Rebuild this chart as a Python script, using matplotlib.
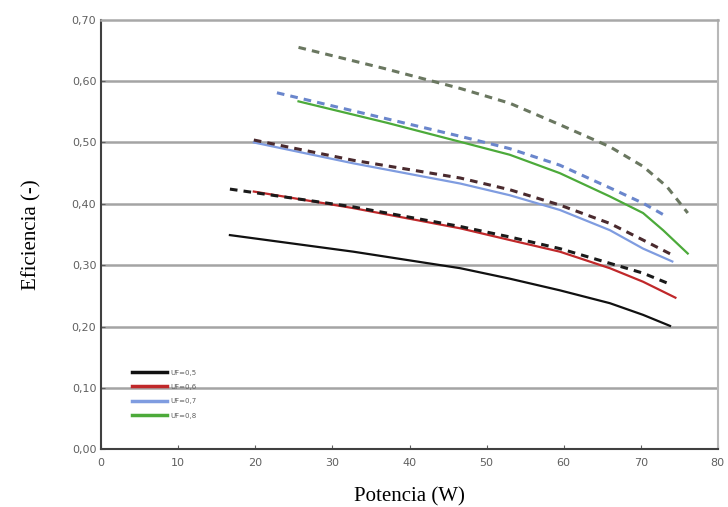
import matplotlib.pyplot as plt
import numpy as np

# U=0,5
w05 = [16.7, 32.7, 46.6, 53.0, 59.5, 66.0, 70.3, 73.8]
e05 = [0.349, 0.322, 0.295, 0.278, 0.259, 0.238, 0.219, 0.201]
w05d = [16.7, 32.7, 46.6, 53.0, 59.5, 66.0, 70.3, 73.8]
e05d = [0.424, 0.395, 0.363, 0.346, 0.327, 0.303, 0.287, 0.269]
# U=0,6
w06 = [19.8, 32.7, 46.6, 53.0, 59.5, 66.0, 70.3, 74.5]
e06 = [0.420, 0.393, 0.360, 0.341, 0.322, 0.295, 0.273, 0.247]
w06d = [19.8, 32.7, 46.6, 53.0, 59.5, 66.0, 70.3, 74.2]
e06d = [0.504, 0.471, 0.442, 0.423, 0.398, 0.368, 0.341, 0.316]
# U=0,7
w07 = [19.8, 32.7, 46.6, 53.0, 59.5, 66.0, 70.3, 74.1]
e07 = [0.500, 0.466, 0.433, 0.414, 0.390, 0.357, 0.327, 0.306]
w07d = [22.8, 34.9, 46.6, 53.0, 59.5, 66.0, 70.3, 73.4]
e07d = [0.581, 0.545, 0.510, 0.490, 0.463, 0.426, 0.401, 0.379]
# U=0,8
w08 = [25.6, 37.1, 46.6, 53.0, 59.5, 66.0, 70.3, 72.9, 76.1]
e08 = [0.567, 0.532, 0.501, 0.480, 0.450, 0.412, 0.385, 0.357, 0.319]
w08d = [25.6, 36.6, 46.6, 53.0, 59.5, 66.0, 70.3, 73.4, 76.1]
e08d = [0.655, 0.621, 0.588, 0.564, 0.529, 0.493, 0.461, 0.428, 0.385]

labels = ['UF=0,5', 'UF=0,6', 'UF=0,7', 'UF=0,8']
xticks = np.arange(0, 81, 10)
yticks = np.arange(0, 0.71, 0.1)

fig = plt.figure(figsize=(7.28, 5.07), dpi=100)
ax = fig.add_axes([0.139, 0.114, 0.847, 0.847])

for y in yticks[1:-1]:
    ax.axhline(y, color='#a4a4a4', lw=1.8, zorder=0)

ax.plot(w05, e05, color='#111111', lw=1.6, label=labels[0])
ax.plot(w06, e06, color='#c0282a', lw=1.6, label=labels[1])
ax.plot(w07, e07, color='#7f9ce0', lw=1.6, label=labels[2])
ax.plot(w08, e08, color='#4caa3a', lw=1.6, label=labels[3])

ax.plot(w05d, e05d, color='#1a1a1a', lw=2.2, ls=(0, (2.5, 2)))
ax.plot(w06d, e06d, color='#4a2a2e', lw=2.2, ls=(0, (2.5, 2)))
ax.plot(w07d, e07d, color='#6a86cc', lw=2.2, ls=(0, (2.5, 2)))
ax.plot(w08d, e08d, color='#6a7760', lw=2.2, ls=(0, (2.5, 2)))

ax.set_xlim(0, 80)
ax.set_ylim(0, 0.70)
ax.set_xticks(xticks)
ax.set_yticks(yticks)
ax.set_xticklabels([str(v) for v in xticks])
ax.set_yticklabels([('%.2f' % v).replace('.', ',') for v in yticks])
ax.tick_params(labelsize=8, labelcolor='#606060', colors='#606060', length=3, direction='in')
ax.tick_params(axis='x', pad=6)
ax.spines['top'].set_color('#a8a8a8')
ax.spines['right'].set_color('#b8b8b8')
ax.spines['top'].set_linewidth(1.8)
ax.spines['right'].set_linewidth(1.5)
ax.spines['left'].set_color('#404040')
ax.spines['bottom'].set_color('#404040')
ax.spines['left'].set_linewidth(1.5)
ax.spines['bottom'].set_linewidth(1.5)

ax.set_xlabel('Potencia (W)', family='Liberation Serif', fontsize=15, labelpad=14)
ax.set_ylabel('Eficiencia (-)', family='Liberation Serif', fontsize=15, labelpad=22)

leg = ax.legend(loc='upper left', bbox_to_anchor=(0.04, 0.2), frameon=False, fontsize=5,
                handlelength=5, labelspacing=1.2, handletextpad=0.5)
for line in leg.get_lines():
    line.set_linewidth(2.5)
for txt in leg.get_texts():
    txt.set_color('#606060')

plt.savefig('out.png', dpi=100)
